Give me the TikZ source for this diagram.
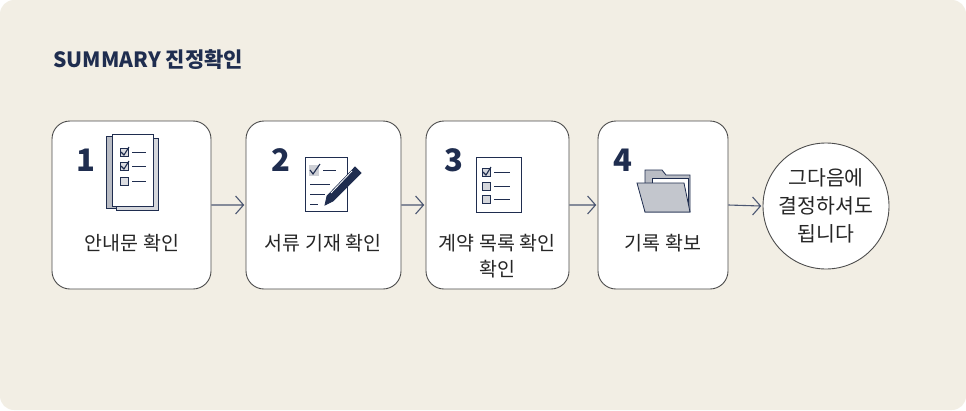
\documentclass[tikz,border=0pt]{standalone}
\usepackage{fontspec}
\setmainfont{Noto Sans CJK KR}
\begin{document}
\begin{tikzpicture}[x=1pt,y=-1pt,
 box/.style={draw=black!70,line width=0.9pt,fill=white,rounded corners=18pt},
 num/.style={font=\fontsize{31}{33}\selectfont\bfseries,text=navy},
 lab/.style={font=\fontsize{19.5}{26}\selectfont,align=center,text=black!85},
 arr/.style={draw=navy!80,line width=1.1pt,line join=miter},
 ic/.style={draw=navy,line width=0.8pt},
 ]
\definecolor{navy}{HTML}{1F2D4F}
\definecolor{bg}{HTML}{F2EEE4}
\definecolor{gr}{HTML}{B9BCC4}
\fill[bg,rounded corners=14pt] (0,0) rectangle (966,410);
\useasboundingbox (0,0) rectangle (966,410);
\node[anchor=west,font=\fontsize{21}{24}\selectfont\bfseries,text=navy] (title) at (50,60) {SUMMARY 진정확인};
\node[box,minimum width=159pt,minimum height=168pt] (b1) at (131.5,205) {};
\node[box,minimum width=155pt,minimum height=168pt] (b2) at (323.5,205) {};
\node[box,minimum width=143pt,minimum height=168pt] (b3) at (497.5,205) {};
\node[box,minimum width=130pt,minimum height=168pt] (b4) at (663,205) {};
\node[circle,draw=black!70,line width=0.9pt,fill=white,minimum size=126pt] (c) at (826,206) {};
\foreach \a/\b in {b1/b2,b2/b3,b3/b4,b4/c}{
 \draw[arr] (\a.east) -- ([xshift=-2pt]\b.west) ++(-8,-9) -- ++(8,9) -- ++(-8,9);}
\node[num] (n1) at (86,160) {1};
\node[num] (n2) at (281,160) {2};
\node[num] (n3) at (454,160) {3};
\node[num] (n4) at (623,160) {4};
\node[lab] (l1) at (132,243) {안내문 확인};
\node[lab] (l2) at (323,243) {서류 기재 확인};
\node[lab] (l3) at (497,256) {계약 목록 확인\\확인};
\node[lab] (l4) at (663,243) {기록 확보};
\node[lab,font=\fontsize{20.5}{28}\selectfont] (lc) at (826,206) {그다음에\\결정하셔도\\됩니다};
% icon 1: scroll with checklist
\draw[ic,fill=gr] (106,136) rectangle (116,208);
\draw[ic,fill=gr!60] (116,138) rectangle (158,210);
\draw[ic,fill=white] (112,134) rectangle (153,206);
\foreach \y/\c in {152/1,166/1,181/0}{
 \draw[ic,fill=gr!50] (120,\y-4) rectangle (128,\y+4);
 \draw[ic] (132,\y) -- (146,\y);
 \ifnum\c=1 \draw[ic,line width=1.1pt] (121,\y) -- (124,\y+3) -- (129,\y-5);\fi}
% icon 2: doc with pen
\draw[ic,fill=white] (305,157) rectangle (347,211);
\fill[gr!70] (309,165) rectangle (319,176);
\draw[ic,line width=1.1pt] (310,170) -- (313,174) -- (320,164);
\draw[ic] (323,170) -- (336,170) (310,184) -- (330,184) (310,194) -- (325,194) (310,204) -- (318,204);
\draw[navy,fill=navy,line width=0.8pt] (355,167) -- (361,173) -- (333,201) -- (325,205) -- (327,196) -- cycle;
\draw[white,line width=0.8pt] (352,171) -- (331,193);
% icon 3: checklist
\draw[ic,fill=white] (476,157) rectangle (521,212);
\foreach \y in {172,186,199}{
 \draw[ic,fill=gr!60] (482,\y-4) rectangle (490,\y+4);
 \draw[ic] (494,\y) -- (510,\y);}
\draw[ic,line width=1.1pt] (483,172) -- (486,175) -- (491,167);
% icon 4: folder
\draw[ic,fill=gr] (645,170) -- (662,170) -- (666,175) -- (690,175) -- (690,212) -- (645,212) -- cycle;
\draw[ic,fill=white] (652,178) rectangle (688,205);
\draw[ic,fill=gr!85] (637,183) -- (684,183) -- (690,212) -- (645,212) -- cycle;
\end{tikzpicture}
\end{document}
